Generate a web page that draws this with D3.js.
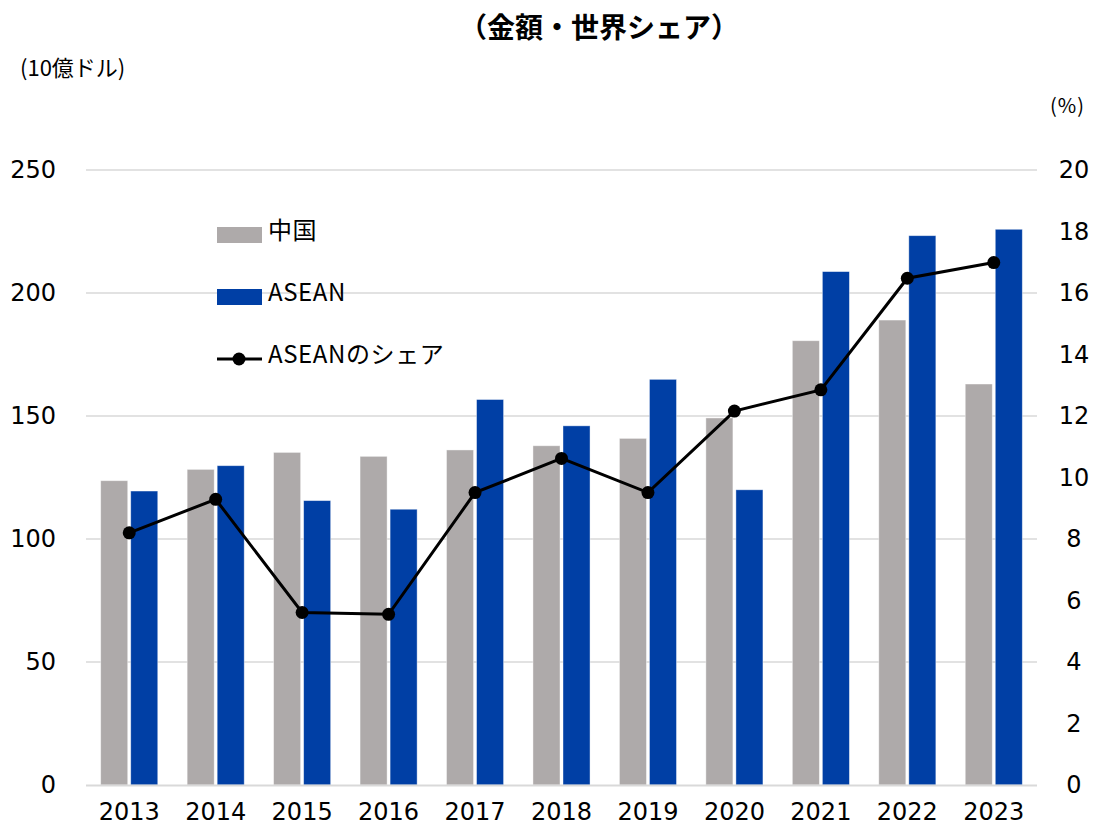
<!DOCTYPE html>
<html><head><meta charset="utf-8">
<script src="https://cdn.jsdelivr.net/npm/d3@7"></script>
<style>body{margin:0;background:#fff}</style>
</head><body>
<svg id="c" width="1097" height="829"></svg>
<script>
const years = ["2013","2014","2015","2016","2017","2018","2019","2020","2021","2022","2023"];
const china = [123.7,128.3,135.2,133.6,136.2,137.9,140.9,149.2,180.6,189.0,163.0];
const asean = [119.5,129.8,115.6,112.1,156.7,146.0,164.9,120.0,208.7,223.3,225.9];
const share = [8.2,9.29,5.61,5.55,9.51,10.62,9.51,12.16,12.85,16.48,16.99];
const leftTicks = [0,50,100,150,200,250];
const rightTicks = [0,2,4,6,8,10,12,14,16,18,20];
const seriesNames = ["中国","ASEAN","ASEANのシェア"];
const colors = {china:"#aeaaaa", asean:"#003fa5", line:"#000000"};

const svg = d3.select("#c");
const L=86, R=1037, T=170, B=785;
const numFont = "'DejaVu Sans', Verdana, sans-serif";
const jpFont = "'Noto Sans CJK JP', sans-serif";

const x0 = d3.scaleBand().domain(years).range([L,R]).paddingInner(0.34).paddingOuter(0.17);
const x1 = d3.scaleBand().domain(["china","asean"]).range([0,x0.bandwidth()]).paddingInner(0.1);
const yL = d3.scaleLinear().domain([0,250]).range([B,T]);
const yR = d3.scaleLinear().domain([0,20]).range([B,T]);

// gridlines
svg.append("g").selectAll("line").data(leftTicks.filter(d=>d>0)).join("line")
  .attr("x1",L).attr("x2",R).attr("y1",d=>yL(d)).attr("y2",d=>yL(d))
  .attr("stroke","#d9d9d9").attr("stroke-width",1.3);

// bars
const rows = years.map((y,i)=>({year:y, china:china[i], asean:asean[i]}));
const g = svg.append("g").selectAll("g").data(rows).join("g")
  .attr("transform",d=>`translate(${x0(d.year)},0)`);
["china","asean"].forEach(k=>{
  g.append("rect").attr("x",x1(k)).attr("width",x1.bandwidth())
   .attr("y",d=>yL(d[k])).attr("height",d=>B-yL(d[k]))
   .attr("fill",colors[k]).attr("stroke","#ffffff").attr("stroke-width",0.8).attr("stroke-opacity",0.5);
});

// baseline axis
svg.append("line").attr("x1",L).attr("x2",R).attr("y1",B+0.5).attr("y2",B+0.5)
  .attr("stroke","#d9d9d9").attr("stroke-width",2);

// line
const cx = d=>x0(d)+x0.bandwidth()/2;
const pts = years.map((y,i)=>[cx(y), yR(share[i])]);
svg.append("path").attr("d",d3.line()(pts)).attr("fill","none")
  .attr("stroke",colors.line).attr("stroke-width",3);
svg.append("g").selectAll("circle").data(pts).join("circle")
  .attr("cx",d=>d[0]).attr("cy",d=>d[1]).attr("r",6.5).attr("fill",colors.line);

// left axis
const axL = d3.axisLeft(yL).tickValues(leftTicks).tickSize(0).tickPadding(0);
svg.append("g").attr("transform","translate(56,0)").call(axL)
  .call(s=>s.select(".domain").remove())
  .selectAll("text").attr("font-family",numFont).attr("font-size",24).attr("fill","#000");
// right axis
const axR = d3.axisRight(yR).tickValues(rightTicks).tickSize(0).tickPadding(0);
svg.append("g").attr("transform","translate(1074,0)").call(axR)
  .call(s=>s.select(".domain").remove())
  .selectAll("text").attr("font-family",numFont).attr("font-size",24).attr("fill","#000").attr("text-anchor","middle");
// bottom axis
const axB = d3.axisBottom(x0).tickSize(0).tickPadding(0);
svg.append("g").attr("transform",`translate(0,${B+18})`).call(axB)
  .call(s=>s.select(".domain").remove())
  .selectAll("text").attr("font-family",numFont).attr("font-size",24).attr("fill","#000").attr("dy","0.71em");

// titles
svg.append("text").attr("x",599).attr("y",30).attr("text-anchor","middle").attr("dominant-baseline","middle")
  .attr("font-family",jpFont).attr("font-weight","bold").attr("font-size",28).text("（金額・世界シェア）");
svg.append("text").attr("x",20).attr("y",70).attr("dominant-baseline","middle")
  .attr("font-family",jpFont).attr("font-size",22).text("(10億ドル)");
svg.append("text").attr("x",1050).attr("y",108).attr("dominant-baseline","middle")
  .attr("font-family",jpFont).attr("font-size",20).attr("letter-spacing",1).text("(%)");

// legend
const lg = svg.append("g");
const ly = [235,297,359];
lg.append("rect").attr("x",217).attr("y",ly[0]-8).attr("width",45).attr("height",16).attr("fill",colors.china);
lg.append("rect").attr("x",217).attr("y",ly[1]-8).attr("width",45).attr("height",16).attr("fill",colors.asean);
lg.append("line").attr("x1",217).attr("x2",262).attr("y1",ly[2]).attr("y2",ly[2]).attr("stroke","#000").attr("stroke-width",3);
lg.append("circle").attr("cx",239).attr("cy",ly[2]).attr("r",6.5).attr("fill","#000");
seriesNames.forEach((n,i)=>{
  lg.append("text").attr("x",268).attr("y",ly[i]-3).attr("dominant-baseline","middle")
    .attr("font-family",jpFont).attr("font-size",24).attr("letter-spacing",0.6).attr("fill","#000").text(n);
});
</script>
</body></html>
